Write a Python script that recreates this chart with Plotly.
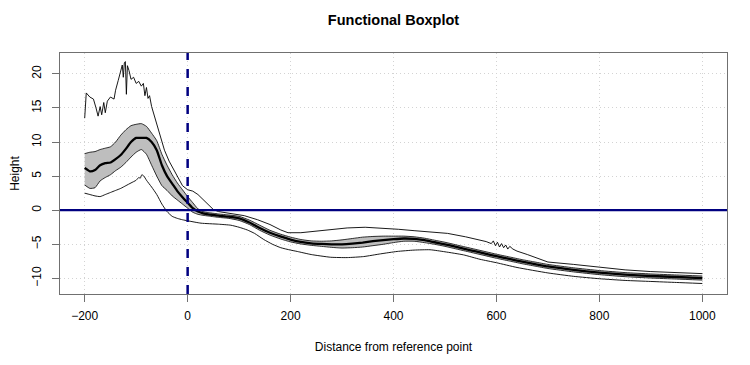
import plotly.graph_objects as go

# ---- data ----
grid_x = [-200, -190, -180, -170, -160, -150, -140, -130, -120, -110, -100, -90, -80, -70, -60, -50,
          -40, -30, -20, -10, 0, 10, 20, 30, 40, 50, 60, 80, 100, 120, 140, 160, 180, 200, 220, 240,
          260, 280, 300, 320, 340, 360, 380, 400, 420, 440, 460, 480, 500, 520, 540, 560, 580, 600,
          625, 650, 675, 700, 750, 800, 850, 900, 950, 1000]

median = [6.2, 5.7, 5.9, 6.6, 6.9, 7.0, 7.5, 8.1, 9.0, 10.0, 10.6, 10.6, 10.6, 10.0, 8.8, 6.6,
          5.0, 3.9, 2.8, 1.9, 1.1, 0.3, -0.2, -0.45, -0.6, -0.7, -0.8, -0.95, -1.2, -1.8, -2.6, -3.3,
          -3.85, -4.3, -4.65, -4.85, -4.95, -5.0, -5.0, -4.9, -4.75, -4.55, -4.4, -4.25, -4.15, -4.2,
          -4.4, -4.7, -5.0, -5.35, -5.7, -6.05, -6.4, -6.75, -7.15, -7.55, -7.9, -8.25, -8.75, -9.15,
          -9.45, -9.65, -9.8, -9.95]

band_upper = [8.3, 8.5, 8.6, 8.9, 9.1, 9.3, 10.0, 11.0, 11.8, 12.4, 12.6, 12.7, 12.3, 11.3, 10.2, 8.2,
              6.6, 5.2, 4.0, 3.0, 2.0, 1.1, 0.2, -0.2, -0.35, -0.45, -0.55, -0.7, -0.9, -1.45, -2.2,
              -2.95, -3.5, -3.95, -4.3, -4.5, -4.55, -4.5, -4.35, -4.15, -3.95, -3.85, -3.8, -3.8,
              -3.8, -3.9, -4.1, -4.4, -4.7, -5.05, -5.4, -5.75, -6.1, -6.45, -6.85, -7.25, -7.6,
              -7.95, -8.45, -8.85, -9.15, -9.35, -9.5, -9.65]

band_lower = [3.7, 3.2, 3.3, 4.3, 4.8, 5.2, 5.8, 6.3, 7.0, 7.8, 8.5, 8.9, 8.2, 6.6, 5.0, 3.6,
              2.9, 2.1, 1.5, 0.9, 0.3, -0.3, -0.6, -0.75, -0.85, -0.95, -1.05, -1.2, -1.5, -2.1,
              -2.95, -3.65, -4.2, -4.65, -4.95, -5.15, -5.3, -5.45, -5.55, -5.5, -5.4, -5.2, -5.0,
              -4.75, -4.55, -4.55, -4.75, -5.0, -5.3, -5.65, -6.0, -6.35, -6.7, -7.05, -7.45, -7.85,
              -8.2, -8.55, -9.05, -9.45, -9.75, -9.95, -10.1, -10.25]

env_max_x = [-200, -197, -190, -183, -178, -174, -170, -167, -163, -160, -156, -150, -143, -140,
             -135, -130, -127, -125, -123, -121, -119, -117, -114, -110, -105, -100, -95, -90, -86,
             -83, -80, -77, -74, -70, -60, -52, -45, -36, -30, -20, -10, 0, 10, 20, 30, 40, 50, 60,
             84, 110, 136, 160, 181, 195, 220, 245, 280, 310, 345, 375, 410, 440, 470, 505, 540,
             568, 580, 590, 594, 598, 602, 606, 610, 614, 618, 622, 626, 632, 640, 660, 700, 750,
             800, 850, 900, 950, 1000]
env_max_y = [13.5, 17.2, 16.6, 16.3, 15.0, 13.8, 15.2, 14.0, 15.8, 14.3, 16.0, 16.6, 16.3, 17.6,
             19.0, 20.5, 21.3, 19.5, 21.6, 21.8, 17.0, 21.2, 20.5, 19.2, 19.5, 18.6, 18.9, 18.2, 18.6,
             16.8, 18.0, 16.4, 16.8, 15.2, 12.6, 10.3, 8.8, 7.2, 6.4, 5.1, 3.6, 3.0, 2.8, 2.3, 1.6,
             0.8, 0.1, -0.2, -0.45, -0.8, -1.4, -2.1, -2.9, -3.3, -3.3, -3.1, -2.8, -2.6, -2.5, -2.6,
             -2.8, -3.0, -3.2, -3.4, -3.9, -4.35, -4.6, -4.9, -4.5, -5.2, -4.7, -5.4, -4.9, -5.5,
             -5.1, -5.7, -5.3, -5.7, -6.0, -6.5, -7.6, -7.95, -8.4, -8.75, -9.0, -9.15, -9.3]

env_min_x = [-200, -190, -180, -170, -160, -150, -140, -130, -120, -110, -100, -95, -92, -89, -85,
             -80, -70, -60, -50, -40, -30, -20, -10, 0, 26, 60, 84, 100, 116, 130, 148, 165, 181,
             200, 213, 240, 278, 310, 342, 375, 407, 440, 471, 500, 536, 568, 600, 640, 700, 750,
             800, 850, 900, 950, 1000]
env_min_y = [2.5, 2.3, 2.1, 2.0, 2.3, 2.6, 2.9, 3.2, 3.6, 4.0, 4.4, 4.8, 4.7, 5.2, 5.0, 4.4, 3.4,
             2.3, 0.9, -0.2, -0.9, -1.2, -1.4, -1.55, -1.9, -2.05, -2.2, -2.5, -2.9, -3.4, -4.3,
             -5.0, -5.5, -5.85, -6.05, -6.5, -6.9, -6.95, -6.8, -6.4, -6.05, -5.85, -5.8, -6.1,
             -6.55, -7.2, -7.7, -8.4, -9.2, -9.7, -10.05, -10.3, -10.45, -10.6, -10.75]

x_ticks = [-200, 0, 200, 400, 600, 800, 1000]
y_ticks = [-10, -5, 0, 5, 10, 15, 20]

FONT = "Liberation Sans, Arial, sans-serif"

fig = go.Figure()

# central 50% region
fig.add_trace(go.Scatter(x=grid_x, y=band_lower, mode="lines",
                         line=dict(color="black", width=0.8, shape="spline", smoothing=0.5),
                         hoverinfo="skip", showlegend=False))
fig.add_trace(go.Scatter(x=grid_x, y=band_upper, mode="lines", fill="tonexty",
                         fillcolor="#BEBEBE",
                         line=dict(color="black", width=0.8, shape="spline", smoothing=0.5),
                         hoverinfo="skip", showlegend=False))
# envelopes
fig.add_trace(go.Scatter(x=env_max_x, y=env_max_y, mode="lines",
                         line=dict(color="black", width=0.9),
                         showlegend=False))
fig.add_trace(go.Scatter(x=env_min_x, y=env_min_y, mode="lines",
                         line=dict(color="black", width=0.9, shape="spline", smoothing=0.5),
                         showlegend=False))
# median
fig.add_trace(go.Scatter(x=grid_x, y=median, mode="lines",
                         line=dict(color="black", width=2.3, shape="spline", smoothing=0.5),
                         showlegend=False))

fig.add_hline(y=0, line=dict(color="#000080", width=2.2), layer="above")
fig.add_vline(x=0, line=dict(color="#000080", width=2.5, dash="dash"), layer="above")

axis_common = dict(showline=True, mirror=True, linecolor="#707070", linewidth=1,
                   ticks="outside", ticklen=7, tickcolor="#707070", automargin=False,
                   showgrid=True, gridcolor="#D3D3D3", griddash="1px,3px", gridwidth=1,
                   zeroline=False, tickfont=dict(size=12, color="black", family=FONT))

fig.update_xaxes(range=[-248, 1048], tickvals=x_ticks, ticklabelstandoff=4,
                 title=dict(text="Distance from reference point", standoff=20,
                            font=dict(size=12, color="black", family=FONT)),
                 **axis_common)
fig.update_yaxes(range=[-12.29, 23.06], tickvals=y_ticks, tickangle=-90, ticklabelstandoff=6,
                 title=dict(text="Height", standoff=12,
                            font=dict(size=12, color="black", family=FONT)),
                 **axis_common)

# the page body adds an 8px offset, so margins are shifted to compensate
fig.update_layout(
    width=750, height=365,
    margin=dict(l=52, r=31, t=45, b=79),
    paper_bgcolor="white", plot_bgcolor="white",
    title=dict(text="<b>Functional Boxplot</b>", x=0.514, xanchor="center", y=0.967,
               yanchor="middle", font=dict(size=14.5, color="black", family=FONT)),
    showlegend=False,
)

fig.write_html("out.html")
